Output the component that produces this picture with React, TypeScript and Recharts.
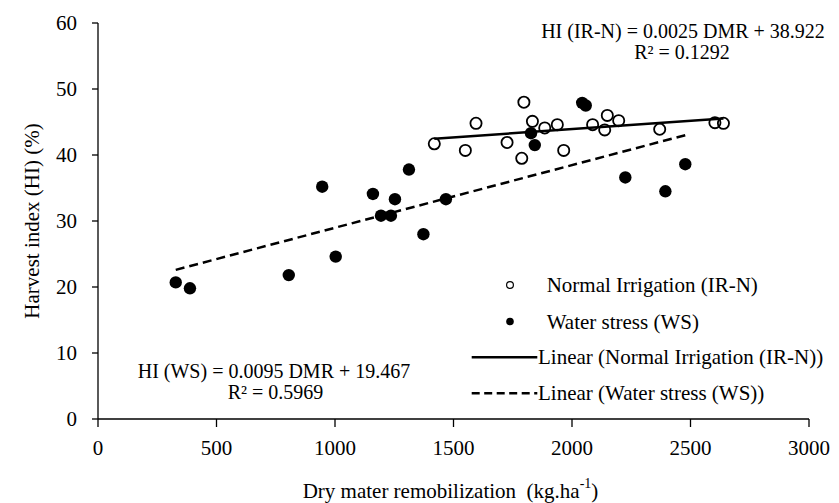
import React from 'react';
import { ScatterChart, Scatter, XAxis, YAxis, Legend, Customized } from 'recharts';

// Normal Irrigation (IR-N)
const irnDmr = [1419, 1550, 1595, 1726, 1788, 1797, 1833, 1885, 1938, 1965, 2087, 2138, 2149, 2197, 2370, 2603, 2639];
const irnHi = [41.7, 40.7, 44.8, 41.9, 39.5, 48.0, 45.1, 44.1, 44.6, 40.7, 44.6, 43.8, 46.0, 45.2, 43.9, 44.9, 44.8];

// Water stress (WS)
const wsDmr = [328, 388, 805, 946, 1003, 1160, 1194, 1236, 1253, 1312, 1373, 1468, 1827, 1843, 2043, 2058, 2225, 2394, 2478];
const wsHi = [20.7, 19.8, 21.8, 35.2, 24.6, 34.1, 30.8, 30.8, 33.3, 37.8, 28.0, 33.3, 43.3, 41.5, 47.9, 47.5, 36.6, 34.5, 38.6];

// Linear trend line end points
const irnTrendDmr = [1419, 2639];
const irnTrendHi = [42.47, 45.52];
const wsTrendDmr = [328, 2488];
const wsTrendHi = [22.6, 43.1];

const xTicks = [0, 500, 1000, 1500, 2000, 2500, 3000];
const yTicks = [0, 10, 20, 30, 40, 50, 60];

const nameIrn = 'Normal Irrigation (IR-N)';
const nameWs = 'Water stress (WS)';
const nameIrnLin = 'Linear (Normal Irrigation (IR-N))';
const nameWsLin = 'Linear (Water stress (WS))';
const legendOrder = [nameIrn, nameWs, nameIrnLin, nameWsLin];

const eqIrn = ['HI (IR-N) = 0.0025 DMR + 38.922', 'R² = 0.1292'];
const eqWs = ['HI (WS) = 0.0095 DMR + 19.467', 'R² = 0.5969'];

const zip = (xs: number[], ys: number[]) => xs.map((x, i) => ({ x, y: ys[i] }));
const irnData = zip(irnDmr, irnHi);
const wsData = zip(wsDmr, wsHi);
const irnTrend = zip(irnTrendDmr, irnTrendHi);
const wsTrend = zip(wsTrendDmr, wsTrendHi);

const FONT = '"Liberation Serif", "Times New Roman", serif';
const FS = 21;
const EQ_FS = 20;

const OpenDot = (p: any) => (
  <circle cx={p.cx} cy={p.cy} r={5.6} fill="none" stroke="#000" strokeWidth={1.8} />
);
const FilledDot = (p: any) => <circle cx={p.cx} cy={p.cy} r={6.2} fill="#000" />;
const NoDot = () => <g />;

const LegendContent = (props: any) => {
  const payload = props.payload || [];
  const present = payload.map((e: any) => e.value);
  const names = legendOrder.filter((n) => present.length === 0 || present.includes(n));
  const rowY = [20, 56.5, 92.3, 128.3];
  return (
    <svg width={380} height={150} style={{ display: 'block' }}>
      {names.map((n: string, i: number) => {
        const y = rowY[i];
        let mark: React.ReactNode = null;
        let tx = 86.7;
        if (n === nameIrn) mark = <circle cx={50} cy={y} r={3.4} fill="none" stroke="#000" strokeWidth={1.2} />;
        else if (n === nameWs) mark = <circle cx={50} cy={y} r={3.8} fill="#000" />;
        else if (n === nameIrnLin) {
          mark = <line x1={11.7} x2={77.3} y1={y} y2={y} stroke="#000" strokeWidth={2.5} />;
          tx = 78;
        } else {
          mark = <line x1={11.7} x2={77.3} y1={y} y2={y} stroke="#000" strokeWidth={2.5} strokeDasharray="8 4.5" />;
          tx = 78;
        }
        return (
          <g key={n}>
            {mark}
            <text x={tx} y={y} dominantBaseline="central" fontFamily={FONT} fontSize={FS} fill="#000">
              {n}
            </text>
          </g>
        );
      })}
    </svg>
  );
};

const Equations = () => (
  <g fontFamily={FONT} fontSize={EQ_FS} fill="#000">
    <text x={683} y={31} textAnchor="middle" dominantBaseline="central">{eqIrn[0]}</text>
    <text x={682} y={51.5} textAnchor="middle" dominantBaseline="central">{eqIrn[1]}</text>
    <text x={274} y={371} textAnchor="middle" dominantBaseline="central">{eqWs[0]}</text>
    <text x={275.5} y={391.5} textAnchor="middle" dominantBaseline="central">{eqWs[1]}</text>
  </g>
);

const YTitle = (props: any) => {
  const vb = props.viewBox || { x: 0, y: 23, width: 98, height: 396 };
  const cx = vb.x + 32;
  const cy = vb.y + vb.height / 2;
  return (
    <text
      x={cx}
      y={cy}
      transform={`rotate(-90, ${cx}, ${cy})`}
      textAnchor="middle"
      dominantBaseline="central"
      fontFamily={FONT}
      fontSize={FS}
      fill="#000"
    >
      Harvest index (HI) (%)
    </text>
  );
};

const XTitle = (props: any) => {
  const vb = props.viewBox || { x: 98, y: 419, width: 711, height: 60 };
  const cx = vb.x + vb.width / 2 - 3;
  const cy = vb.y + 72;
  return (
    <text
      x={cx}
      y={cy}
      textAnchor="middle"
      dominantBaseline="central"
      fontFamily={FONT}
      fontSize={FS}
      fill="#000"
      style={{ whiteSpace: 'pre' }}
    >
      {'Dry mater remobilization  (kg.ha'}
      <tspan dy={-8} fontSize={14}>-1</tspan>
      <tspan dy={8}>)</tspan>
    </text>
  );
};

export default function App() {
  return (
    <div style={{ position: 'absolute', left: 0, top: 0, width: 839, height: 503, background: '#fff' }}>
      <ScatterChart width={839} height={503} margin={{ top: 23, right: 30, bottom: 24, left: 0 }}>
        <XAxis
          type="number"
          dataKey="x"
          domain={[0, 3000]}
          ticks={xTicks}
          interval={0}
          height={60}
          tickSize={8}
          tickMargin={13}
          axisLine={{ stroke: '#000', strokeWidth: 1.3 }}
          tickLine={{ stroke: '#000', strokeWidth: 1.3 }}
          tick={{ fontSize: FS, fill: '#000', fontFamily: FONT }}
          label={XTitle}
        />
        <YAxis
          type="number"
          dataKey="y"
          domain={[0, 60]}
          ticks={yTicks}
          interval={0}
          width={98}
          tickSize={6}
          tickMargin={15}
          axisLine={{ stroke: '#000', strokeWidth: 1.3 }}
          tickLine={{ stroke: '#000', strokeWidth: 1.3 }}
          tick={{ fontSize: FS, fill: '#000', fontFamily: FONT }}
          label={YTitle}
        />
        <Scatter name={nameIrn} data={irnData} shape={OpenDot} isAnimationActive={false} />
        <Scatter name={nameWs} data={wsData} shape={FilledDot} isAnimationActive={false} />
        <Scatter
          name={nameIrnLin}
          data={irnTrend}
          line={{ stroke: '#000', strokeWidth: 2.5 }}
          shape={NoDot}
          legendType="line"
          isAnimationActive={false}
        />
        <Scatter
          name={nameWsLin}
          data={wsTrend}
          line={{ stroke: '#000', strokeWidth: 2.5, strokeDasharray: '9 5' }}
          shape={NoDot}
          legendType="line"
          isAnimationActive={false}
        />
        <Legend
          layout="vertical"
          align="center"
          verticalAlign="middle"
          content={LegendContent}
          wrapperStyle={{ position: 'absolute', left: 460, top: 265, width: 380, height: 150 }}
        />
        <Customized component={Equations} />
      </ScatterChart>
    </div>
  );
}
